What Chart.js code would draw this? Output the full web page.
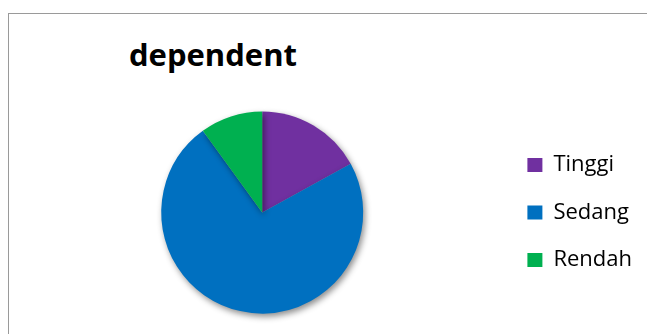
<!DOCTYPE html>
<html>
<head>
<meta charset="utf-8">
<script src="https://cdn.jsdelivr.net/npm/chart.js@4.4.0/dist/chart.umd.min.js"></script>
<style>
  html, body { margin: 0; padding: 0; background: #ffffff; overflow: hidden; }
  body { width: 647px; height: 334px; position: relative; }
  .frame {
    position: absolute; left: 8px; top: 13px;
    width: 700px; height: 400px;
    border-top: 1px solid #9a9a9a; border-left: 1px solid #9a9a9a;
  }
  .judul {
    position: absolute; left: 129px; top: 33px;
    font-family: "Open Sans", sans-serif; font-weight: bold; font-size: 31px;
    color: #000000; white-space: nowrap;
  }
  .chart-container { position: absolute; left: 0; top: 0; width: 647px; height: 334px; }
</style>
</head>
<body>
<div class="frame"></div>
<div class="judul">dependent</div>
<div class="chart-container"><canvas id="pieChart"></canvas></div>
<script>
// Kategori dan nilai (persen)
const kategori = ['Tinggi', 'Sedang', 'Rendah'];
const nilai = [17, 73, 10];
const warna = ['#7030A0', '#0070C0', '#00B050'];

// Bayangan halus di bawah pie
const bayangan = {
    id: 'bayangan',
    beforeDatasetDraw(chart) {
        const ctx = chart.ctx;
        ctx.save();
        ctx.shadowColor = 'rgba(0, 0, 0, 0.45)';
        ctx.shadowBlur = 6;
        ctx.shadowOffsetX = 2;
        ctx.shadowOffsetY = 3;
    },
    afterDatasetDraw(chart) {
        chart.ctx.restore();
    }
};

const config = {
    type: 'pie',
    data: {
        labels: kategori,
        datasets: [{
            data: nilai,
            backgroundColor: warna,
            borderWidth: 0,
            hoverOffset: 0
        }]
    },
    options: {
        responsive: true,
        maintainAspectRatio: false,
        animation: false,
        layout: {
            padding: { left: 22.5, right: 5, top: 111.5, bottom: 20.5 }
        },
        plugins: {
            legend: {
                display: true,
                position: 'right',
                labels: {
                    color: '#000000',
                    boxWidth: 15,
                    boxHeight: 14,
                    padding: 25.5,
                    font: { family: '"Open Sans", sans-serif', size: 22 }
                }
            },
            tooltip: { enabled: false },
            title: { display: false }
        }
    },
    plugins: [bayangan]
};

const ctx = document.getElementById('pieChart').getContext('2d');
new Chart(ctx, config);
</script>
</body>
</html>
